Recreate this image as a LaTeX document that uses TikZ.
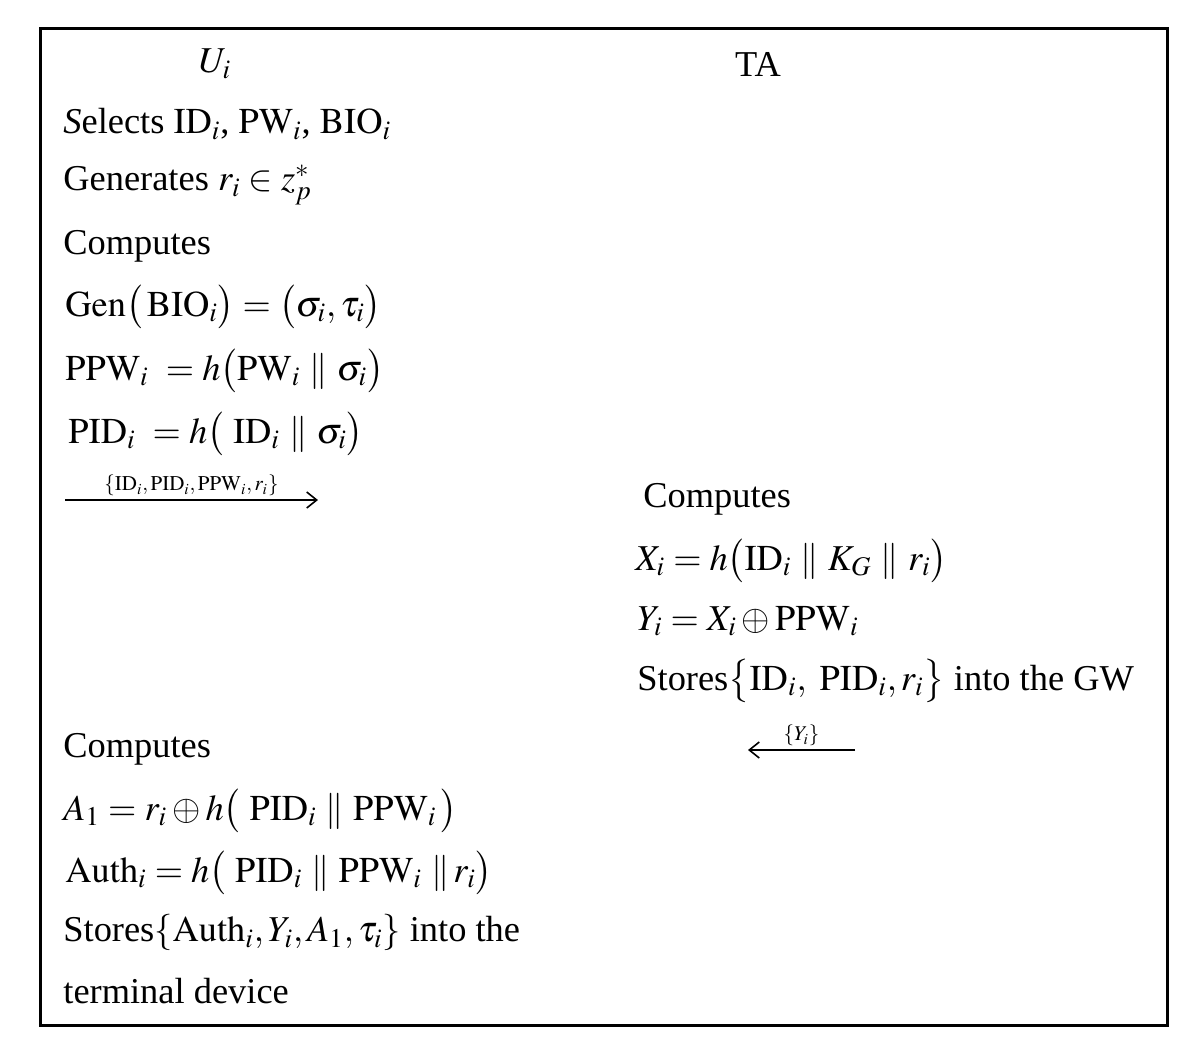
\documentclass[tikz,border=0pt]{standalone}
\usepackage{mathptmx}
\usepackage{fontspec}
\setmainfont{Liberation Serif}
\usepackage{amsmath}
\usetikzlibrary{arrows.meta}
\newcommand{\rmx}[1]{\mathrm{#1}}
\tikzset{
  step line/.style={anchor=west, inner sep=0pt, font=\fontsize{18.2}{21}\selectfont},
  msg/.style={-{Straight Barb[length=5pt, width=8pt]}, line width=0.8pt},
  msglabel/.style={font=\fontsize{10.5}{12}\selectfont, inner sep=1.5pt}
}
\begin{document}
\begin{tikzpicture}[x=0.5pt, y=-0.5pt]
\useasboundingbox (0,0) rectangle (1200,1050);
\draw[line width=1.5pt] (40,28) rectangle (1167,1025);

% parties
\node[step line, anchor=center] (ui) at (215,64) {$U_i$};
\node[step line, anchor=center] (ta) at (758,64) {TA};

% user side
\node[step line] (sel) at (63,124) {\textit{S}elects $\rmx{ID}_i$,\ $\rmx{PW}_i$,\ $\rmx{BIO}_i$};
\node[step line] (gen) at (63,185) {Generates $r_i\in z_p^{*}$};
\node[step line] (cmp1) at (63,246) {Computes};
\node[step line] (bio) at (65,307) {$\rmx{Gen}\big(\,\rmx{BIO}_i\big)=\big(\sigma_i,\tau_i\big)$};
\node[step line] (ppw) at (65,371) {$\rmx{PPW}_i\ =h\big(\rmx{PW}_i\ \|\ \sigma_i\big)$};
\node[step line] (pid) at (68,434) {$\rmx{PID}_i\ =h\big(\ \rmx{ID}_i\ \|\ \sigma_i\big)$};

\coordinate (m1s) at (65,500);
\coordinate (m1e) at (318,500);
\draw[msg] (m1s) -- node[msglabel, above] {$\{\rmx{ID}_i,\rmx{PID}_i,\rmx{PPW}_i,r_i\}$} (m1e);

% TA side
\node[step line] (cmp2) at (643,499) {Computes};
\node[step line] (xi) at (635,561) {$X_i=h\big(\rmx{ID}_i\ \|\ K_G\ \|\ r_i\big)$};
\node[step line] (yi) at (637,621) {$Y_i=X_i\oplus\rmx{PPW}_i$};
\node[step line] (sto1) at (637,681) {Stores$\big\{\rmx{ID}_i,\ \rmx{PID}_i,r_i\big\}$ into the GW};

\coordinate (m2s) at (855,750);
\coordinate (m2e) at (748,750);
\draw[msg] (m2s) -- node[msglabel, above] {$\{Y_i\}$} (m2e);

% user side again
\node[step line] (cmp3) at (63,749) {Computes};
\node[step line] (a1) at (63,811) {$A_1=r_i\oplus h\big(\ \rmx{PID}_i\ \|\ \rmx{PPW}_i\,\big)$};
\node[step line] (auth) at (65,873) {$\rmx{Auth}_i=h\big(\ \rmx{PID}_i\ \|\ \rmx{PPW}_i\ \|\,r_i\big)$};
\node[step line] (sto2) at (63,933) {Stores$\{\rmx{Auth}_i,Y_i,A_1,\tau_i\}$ into the};
\node[step line] (term) at (63,991) {terminal device};
\end{tikzpicture}
\end{document}
